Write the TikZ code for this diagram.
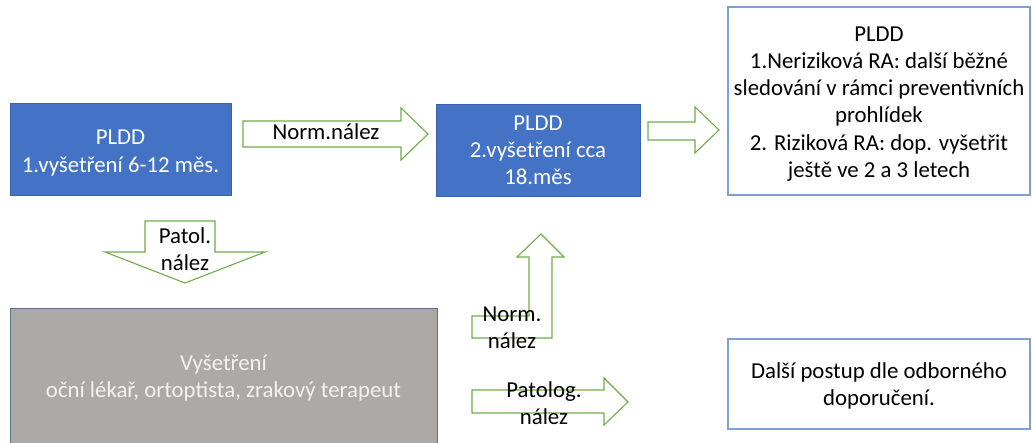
\documentclass[tikz,border=0pt]{standalone}
\usepackage{fontspec}
\setmainfont{Carlito}
\definecolor{bluefill}{HTML}{4472C4}
\definecolor{blueline}{HTML}{3A63AD}
\definecolor{lightline}{HTML}{7F9FD8}
\definecolor{greyfill}{HTML}{ADA9A7}
\definecolor{greyline}{HTML}{5E6F8A}
\definecolor{arrgreen}{HTML}{70AD47}
\begin{document}
\begin{tikzpicture}[x=1pt,y=-1pt,
  every node/.style={font=\fontsize{22.8}{27.2}\selectfont, align=center, inner sep=0pt},
  bluebox/.style={draw=blueline, fill=bluefill, line width=0.8pt, text=white},
  whitebox/.style={draw=lightline, fill=white, line width=1.2pt, text=black},
  greybox/.style={draw=greyline, fill=greyfill, line width=0.8pt, text=white!95!black},
  blockarrow/.style={draw=arrgreen, fill=white, line width=1.1pt, line join=miter},
  lbl/.style={text=black}]
\useasboundingbox (0,0) rectangle (1032,443);

% boxes
\node[bluebox, minimum width=221pt, minimum height=92pt] (b1) at (120.5,149) {};
\node[text=white] (b1t) at ([yshift=-4pt]b1.center) {PLDD\\1.vyšetření 6-12 měs.};
\node[bluebox, minimum width=204pt, minimum height=92pt] (b2) at (538,150)
  {PLDD\\2.vyšetření cca\\18.měs};
\node[whitebox, minimum width=302pt, minimum height=188pt] (b3) at (879,101) {};
\node[text=black] (b3t) at ([yshift=-3pt]b3.center)
  {PLDD\\1.Neriziková RA: další běžné\\sledování v rámci preventivních\\prohlídek\\2. Riziková RA: dop. vyšetřit\\ještě ve 2 a 3 letech};
\node[greybox, minimum width=427pt, minimum height=140pt] (b4) at (223.5,378)
  {Vyšetření\\oční lékař, ortoptista, zrakový terapeut};
\node[whitebox, minimum width=302pt, minimum height=90pt] (b5) at (879,384) {};
\node[text=black] (b5t) at ([yshift=-2pt]b5.center) {Další postup dle odborného\\doporučení.};

% block arrows
\draw[blockarrow] (243,121) -- (401,121) -- (401,108) -- (428,134) -- (401,160) -- (401,147) -- (243,147) -- cycle;
\node[lbl] (a1) at (326,132) {Norm.nález};

\draw[blockarrow] (648,122) -- (695,122) -- (695,107) -- (719,130) -- (695,153) -- (695,140) -- (648,140) -- cycle;

\draw[blockarrow] (145,221) -- (215,221) -- (215,252) -- (265,252) -- (185,283) -- (105,252) -- (145,252) -- cycle;
\node[lbl] (a2) at (185,249) {Patol.\\nález};

\draw[blockarrow] (472,316) -- (529,316) -- (529,257) -- (517,257) -- (541,234) -- (564,257) -- (552,257) -- (552,338) -- (472,338) -- cycle;
\node[lbl] (a3) at (512,328) {Norm.\\nález};

\draw[blockarrow] (472,390) -- (604,390) -- (604,378) -- (628,402) -- (604,425) -- (604,413) -- (472,413) -- cycle;
\node[lbl] (a4) at (544,403) {Patolog.\\nález};
\end{tikzpicture}
\end{document}
